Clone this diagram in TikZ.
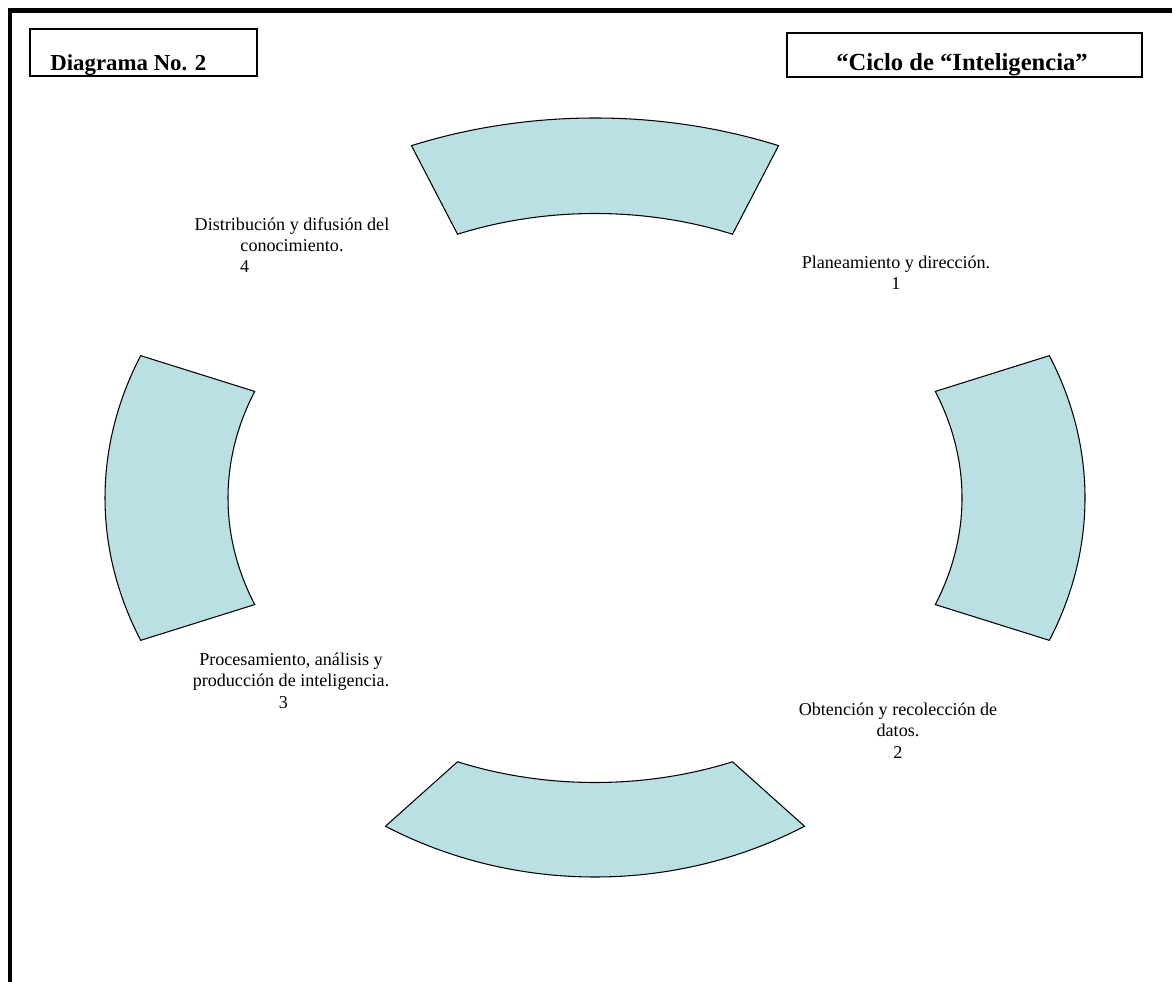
\documentclass[tikz,border=0pt]{standalone}
\usepackage{fontspec}
\setmainfont{Liberation Serif}
\definecolor{segfill}{RGB}{186,224,227}

\begin{document}
\begin{tikzpicture}[x=0.02cm, y=0.02cm,
  seg/.style={fill=segfill, draw=black, line width=0.6pt},
  stage/.style={align=center, inner sep=0pt, font=\fontsize{10.3}{12}\selectfont},
  titletext/.style={inner sep=0pt, font=\fontsize{13.5}{16}\selectfont\bfseries},
  titlebox/.style={draw=black, line width=1.1pt}]
  \useasboundingbox (0,0) rectangle (1172,-982);
  % page frame, top and left edges only
  \draw[line width=2.3pt] (1172,-10.5) -- (10.3,-10.5) -- (10.3,-982);
  % title boxes (text clipped at the bottom edge)
  \begin{scope}
    \clip (30,-29) rectangle (257,-75.5);
    \node[titletext, font=\fontsize{13}{16}\selectfont\bfseries, anchor=base west] (diagno) at (50,-70.5) {Diagrama No. 2};
  \end{scope}
  \draw[titlebox] (30,-29) rectangle (257,-76);
  \begin{scope}
    \clip (787,-33) rectangle (1142,-76.5);
    \node[titletext, font=\fontsize{14}{16}\selectfont\bfseries, anchor=base] (ciclo) at (962,-70.5) {“Ciclo de “Inteligencia”};
  \end{scope}
  \draw[titlebox] (787,-33) rectangle (1142,-77);
  % ring segments: top, right, left
  \begin{scope}[shift={(595,-498)}]
    \foreach \a in {90,0,180}
      \filldraw[seg] (\a-22:490 and 380)
        arc[start angle=\a-22, end angle=\a+22, x radius=490, y radius=380]
        -- (\a+22:367 and 284.5)
        arc[start angle=\a+22, end angle=\a-22, x radius=367, y radius=284.5] -- cycle;
    % bottom one is wider at the outside
    \filldraw[seg] (240:419 and 379)
      arc[start angle=240, end angle=300, x radius=419, y radius=379]
      -- (292:367 and 284.5)
      arc[start angle=292, end angle=248, x radius=367, y radius=284.5] -- cycle;
  \end{scope}
  % stage labels
  \node[stage, anchor=base] (plan) at (896,-290) {Planeamiento y dirección.\\1};
  \node[stage, anchor=base] (obten) at (898,-758) {Obtención y recolección de\\datos.\\2};
  \node[stage, anchor=base] (proces) at (291,-708) {Procesamiento, análisis y\\producción de inteligencia.\\\makebox[13.7pt][l]{3}};
  \node[stage, anchor=base] (distrib) at (292,-273) {Distribución y difusión del\\conocimiento.\\\makebox[59pt][l]{4}};
\end{tikzpicture}
\end{document}
